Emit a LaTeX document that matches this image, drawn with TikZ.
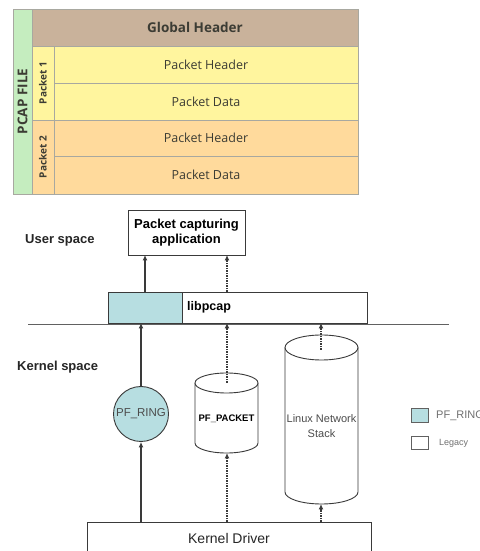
\documentclass[tikz,border=0pt]{standalone}
\usepackage{fontspec}
\setmainfont{Liberation Sans}
\newfontfamily\tblfont{Open Sans}
\usetikzlibrary{arrows.meta}
\definecolor{ghbrown}{HTML}{C9B29B}
\definecolor{pcgreen}{HTML}{C5EDBF}
\definecolor{pkyellow}{HTML}{FFF59E}
\definecolor{pkorange}{HTML}{FFDA9C}
\definecolor{cellline}{HTML}{A8A8A0}
\definecolor{tbltext}{HTML}{3C3C34}
\definecolor{ringcyan}{HTML}{B7DEE1}
\definecolor{darkline}{HTML}{3A3A3A}
\definecolor{lgtext}{HTML}{707070}
\tikzset{
  cell/.style={draw=cellline, line width=0.7pt, anchor=south west, inner sep=0pt, outer sep=0pt, text=tbltext},
  box/.style={draw=darkline, line width=0.9pt, fill=white, inner sep=0pt, outer sep=0pt},
  solidarr/.style={draw=darkline, line width=1.1pt, -{Latex[length=5.5pt,width=5pt]}},
  dasharr/.style={draw=darkline, line width=1.3pt, dash pattern=on 1.5pt off 1pt, -{Latex[length=5.5pt,width=5pt]}},
  lbl/.style={font=\bfseries\fontsize{13}{15}\selectfont, text=black!85, inner sep=0pt, anchor=west},
}
\begin{document}
\begin{tikzpicture}[x=1pt,y=1pt]
\useasboundingbox (0,0) rectangle (479,551);
\fill[white] (0,0) rectangle (479,551);
% ---- PCAP table ----
\node[cell, fill=pcgreen, minimum width=19pt, minimum height=185pt] (pcap) at (13,357) {};
\node[rotate=90, text=tbltext, font=\tblfont\bfseries\fontsize{13.5}{15}\selectfont] (pcapt) at (pcap.center) {PCAP FILE};
\node[cell, fill=ghbrown, minimum width=326pt, minimum height=37pt, font=\tblfont\bfseries\fontsize{13.5}{15}\selectfont] (gh) at (32,505) {Global Header};
\node[cell, fill=pkyellow, minimum width=22pt, minimum height=74pt] (p1) at (32,431) {};
\node[rotate=90, text=tbltext, font=\tblfont\bfseries\fontsize{10}{12}\selectfont] (p1t) at (p1.center) {Packet 1};
\node[cell, fill=pkyellow, minimum width=304pt, minimum height=37pt, font=\tblfont\fontsize{12.5}{14}\selectfont] (p1h) at (54,468) {Packet Header};
\node[cell, fill=pkyellow, minimum width=304pt, minimum height=37pt, font=\tblfont\fontsize{12.5}{14}\selectfont] (p1d) at (54,431) {Packet Data};
\node[cell, fill=pkorange, minimum width=22pt, minimum height=74pt] (p2) at (32,357) {};
\node[rotate=90, text=tbltext, font=\tblfont\bfseries\fontsize{10}{12}\selectfont] (p2t) at (p2.center) {Packet 2};
\node[cell, fill=pkorange, minimum width=304pt, minimum height=36pt, font=\tblfont\fontsize{12.5}{14}\selectfont] (p2h) at (54,395) {Packet Header};
\node[cell, fill=pkorange, minimum width=304pt, minimum height=38pt, font=\tblfont\fontsize{12.5}{14}\selectfont] (p2d) at (54,357) {Packet Data};
% ---- architecture ----
\node[lbl] (us) at (25,311) {User space};
\node[lbl] (ks) at (17,184) {Kernel space};
\node[box, minimum width=117pt, minimum height=45pt, align=center, font=\bfseries\fontsize{13}{15}\selectfont] (app) at (186.5,318.5) {Packet capturing\\application};
\node[box, minimum width=259pt, minimum height=31pt, anchor=south west] (lib) at (108,228) {};
\node[box, fill=ringcyan, minimum width=74pt, minimum height=31pt, anchor=south west] (libc) at (108,228) {};
\node[font=\bfseries\fontsize{12.5}{14}\selectfont, anchor=west, inner sep=0pt] (libt) at (187,243.5) {libpcap};
\coordinate (hl) at (28,227);
\coordinate (hr) at (449,227);
\draw[darkline!80, line width=0.8pt] (hl) -- (hr);
% PF_RING
\node[circle, draw=darkline, line width=0.9pt, fill=ringcyan, minimum size=55pt, inner sep=0pt, text=black!70, font=\fontsize{11.5}{13}\selectfont] (ring) at (141,137) {PF\_RING};
% PF_PACKET cylinder
\draw[darkline, line width=0.9pt, fill=white] (195,168) -- (195,108) arc (180:360:31.5 and 10) -- (258,168);
\draw[darkline, line width=0.9pt, fill=white] (226.5,168) ellipse (31.5 and 10);
\node[font=\bfseries\fontsize{9.5}{11}\selectfont, inner sep=0pt] (pfp) at (226.5,132) {PF\_PACKET};
\coordinate (pfptop) at (227,168);
\coordinate (pfpbot) at (227,98);
% Linux cylinder
\draw[darkline, line width=0.9pt, fill=white] (285,203.5) -- (285,59) arc (180:360:36.5 and 12) -- (358,203.5);
\draw[darkline, line width=0.9pt, fill=white] (321.5,203.5) ellipse (36.5 and 12.5);
\node[align=center, text=black!70, font=\fontsize{11}{14.5}\selectfont, inner sep=0pt] (lns) at (321.5,125) {Linux Network\\Stack};
\coordinate (lnstop) at (321,201);
\coordinate (lnsbot) at (321,47);
% Kernel driver
\node[box, minimum width=284pt, minimum height=45pt, anchor=north west] (drv) at (87,29) {};
\node[font=\fontsize{14}{16}\selectfont, text=black!85, inner sep=0pt] (drvt) at (229,13) {Kernel Driver};
% arrows
\coordinate (a1) at (145,0);
\coordinate (a2) at (227,0);
\draw[solidarr] (lib.north -| a1) -- (app.south -| a1);
\draw[dasharr] (lib.north -| a2) -- (app.south -| a2);
\draw[solidarr] (ring.north) -- (lib.south -| ring.north);
\draw[solidarr] (drv.north -| ring.south) -- (ring.south);
\draw[dasharr] (pfptop) -- (lib.south -| pfptop);
\draw[dasharr] (drv.north -| pfpbot) -- (pfpbot);
\draw[dasharr] (lnstop) -- (lib.south -| lnstop);
\draw[dasharr] (drv.north -| lnsbot) -- (lnsbot);
% legend
\node[draw=darkline!80, line width=0.8pt, fill=ringcyan, minimum width=17pt, minimum height=14pt, inner sep=0pt, anchor=south west] (lgc) at (411,128) {};
\node[draw=darkline!80, line width=0.8pt, fill=white, minimum width=17pt, minimum height=13pt, inner sep=0pt, anchor=south west] (lgw) at (411,101) {};
\node[anchor=west, inner sep=0pt, text=lgtext, font=\fontsize{11}{13}\selectfont] (lgct) at (436,135) {PF\_RING};
\node[anchor=west, inner sep=0pt, text=lgtext, font=\fontsize{9}{11}\selectfont] (lgwt) at (439,107.5) {Legacy};
\end{tikzpicture}
\end{document}
